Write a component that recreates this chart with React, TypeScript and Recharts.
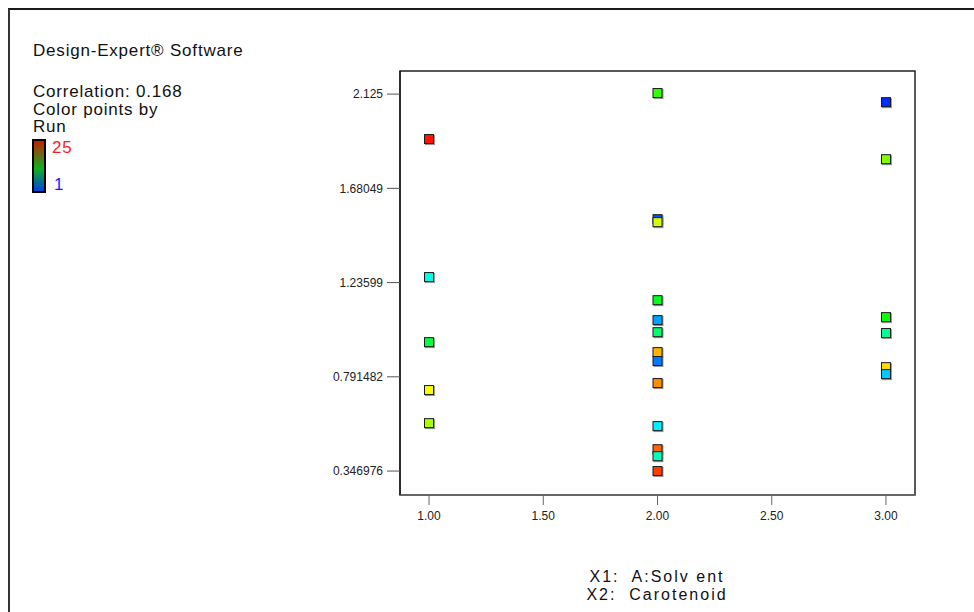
import { ScatterChart, Scatter, XAxis, YAxis, ReferenceArea } from "recharts";

// X1: A:Solvent level, one entry per point
const solvent = [
  1, 1, 1, 1, 1,
  2, 2, 2, 2, 2, 2, 2, 2, 2, 2, 2, 2, 2,
  3, 3, 3, 3, 3, 3,
];

// X2: Carotenoid (actual values)
const carotenoid = [
  1.913, 1.262, 0.955, 0.729, 0.573,
  2.13, 1.535, 1.521, 1.153, 1.059, 1.002, 0.908, 0.866, 0.762, 0.559, 0.45, 0.417, 0.347,
  2.087, 1.818, 1.073, 0.998, 0.837, 0.804,
];

// run number of each point (used for colouring)
const runs = [
  25, 7, 11, 19, 17,
  14, 2, 18, 12, 4, 10, 21, 3, 22, 6, 23, 8, 24,
  1, 16, 13, 9, 20, 5,
];

const xTicks = [1, 1.5, 2, 2.5, 3];
const yTicks = [0.346976, 0.791482, 1.23599, 1.68049, 2.125];
const yTickLabels = ["0.346976", "0.791482", "1.23599", "1.68049", "2.125"];

const data = solvent.map((x, i) => ({ x, y: carotenoid[i], run: runs[i] }));

// blue (run 1) -> red (run 25)
function runColor(run: number) {
  const hue = 230 - ((run - 1) * 225) / 24;
  return `hsl(${hue}, 100%, 50%)`;
}

const FONT = "'Liberation Sans', Arial, sans-serif";

function SquareDot(props: any) {
  const { cx, cy, payload } = props;
  if (cx == null || cy == null) return null;
  return (
    <g>
      <rect x={cx - 4} y={cy - 4} width={10} height={10} fill="#9a9a9a" />
      <rect
        x={cx - 4.5}
        y={cy - 4.5}
        width={9}
        height={9}
        fill={runColor(payload.run)}
        stroke="#1a1a1a"
        strokeWidth={1}
      />
    </g>
  );
}

const infoText = { position: "absolute" as const, fontSize: 17, letterSpacing: 0.8, color: "#111", lineHeight: "17.5px" };
const axisTitle = {
  position: "absolute" as const,
  left: 507,
  width: 300,
  textAlign: "center" as const,
  fontSize: 16,
  letterSpacing: 2,
  color: "#111",
  lineHeight: "16px",
  whiteSpace: "pre" as const,
};

export default function App() {
  return (
    <div
      style={{
        position: "absolute",
        left: 0,
        top: 0,
        width: 974,
        height: 612,
        background: "#fff",
        fontFamily: FONT,
        overflow: "hidden",
      }}
    >
      {/* outer frame */}
      <div
        style={{
          position: "absolute",
          left: 8,
          top: 8,
          width: 980,
          height: 620,
          borderTop: "2px solid #1a1a1a",
          borderLeft: "2px solid #333",
        }}
      />
      <ScatterChart
        width={974}
        height={612}
        margin={{ top: 71, right: 59, left: 340, bottom: 87 }}
        style={{ position: "absolute", left: 0, top: 0 }}
      >
        <XAxis
          type="number"
          dataKey="x"
          domain={[0.873, 3.127]}
          ticks={xTicks}
          tickFormatter={(v) => Number(v).toFixed(2)}
          tick={{ fontSize: 12, fill: "#222", fontFamily: FONT }}
          tickSize={10}
          tickMargin={6}
          tickLine={{ stroke: "#666" }}
          axisLine={{ stroke: "#666", strokeWidth: 2 }}
          height={30}
          allowDataOverflow
        />
        <YAxis
          type="number"
          dataKey="y"
          domain={[0.234, 2.234]}
          ticks={yTicks}
          tickFormatter={(v) => yTickLabels[yTicks.indexOf(v)] ?? String(v)}
          tick={{ fontSize: 12, fill: "#222", fontFamily: FONT }}
          tickSize={13}
          tickMargin={4}
          tickLine={{ stroke: "#555" }}
          axisLine={{ stroke: "#000" }}
          width={60}
          allowDataOverflow
        />
        <ReferenceArea
          x1={0.873}
          x2={3.127}
          y1={0.234}
          y2={2.234}
          fill="none"
          stroke="#222"
          strokeWidth={1.5}
        />
        <Scatter data={data} shape={SquareDot} isAnimationActive={false} />
      </ScatterChart>

      {/* left information block */}
      <div style={{ ...infoText, left: 33, top: 42 }}>Design-Expert® Software</div>
      <div style={{ ...infoText, left: 33, top: 83 }}>
        <div>Correlation: 0.168</div>
        <div>Color points by</div>
        <div>Run</div>
      </div>
      <div
        style={{
          position: "absolute",
          left: 32,
          top: 139,
          width: 10,
          height: 50,
          border: "2px solid #000",
          background: "linear-gradient(to bottom, #c02000, #10b020 55%, #0040e0)",
        }}
      />
      <div style={{ ...infoText, left: 52, top: 139, color: "#ff1a1a" }}>25</div>
      <div style={{ ...infoText, left: 54, top: 176, color: "#1a1aff" }}>1</div>

      {/* axis title */}
      <div style={{ ...axisTitle, top: 569 }}>X1:  A:Solv ent</div>
      <div style={{ ...axisTitle, top: 587 }}>X2:  Carotenoid</div>
    </div>
  );
}
